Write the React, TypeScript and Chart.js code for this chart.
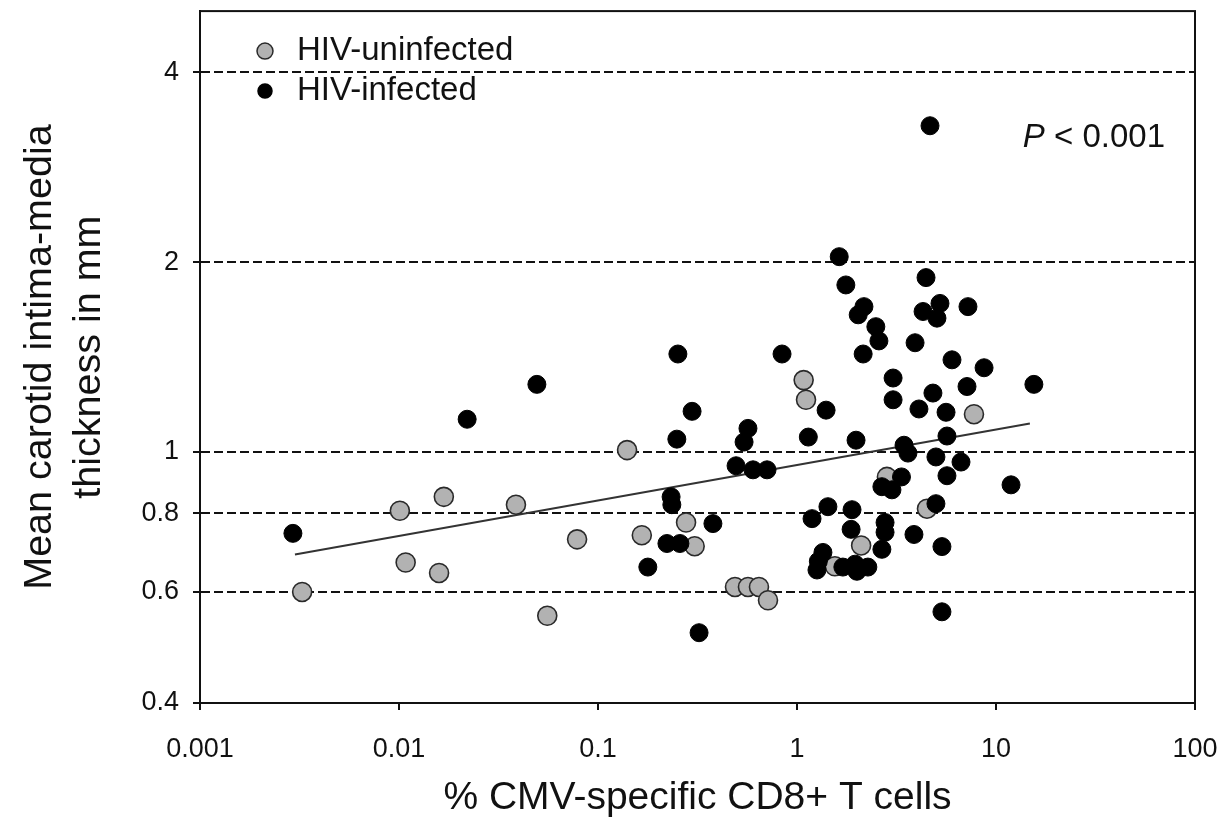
import React, { useEffect, useRef } from 'react';
import { Chart, registerables } from 'chart.js';

Chart.register(...registerables);

const X_TICKS = [0.001, 0.01, 0.1, 1, 10, 100];
const Y_TICKS = [0.4, 0.6, 0.8, 1, 2, 4];
const X_MIN = 0.001;
const X_MAX = 100;
const Y_MIN = 0.4;
const Y_MAX = 5.0;

const LABEL_UNINFECTED = 'HIV-uninfected';
const LABEL_INFECTED = 'HIV-infected';
const X_TITLE = '% CMV-specific CD8+ T cells';
const Y_TITLE = ['Mean carotid intima-media', 'thickness in mm'];
const P_ITALIC = 'P';
const P_REST = ' < 0.001';

const uninfectedX = [0.00326, 0.0101, 0.0108, 0.0159, 0.0168, 0.0387, 0.0556, 0.0785, 0.14, 0.166, 0.277, 0.306, 0.488, 0.567, 0.644, 0.715, 1.08, 1.11, 1.55, 2.1, 2.83, 4.5, 7.75];
const uninfectedY = [0.6, 0.807, 0.668, 0.643, 0.849, 0.825, 0.55, 0.727, 1.007, 0.738, 0.773, 0.709, 0.611, 0.611, 0.611, 0.582, 1.3, 1.21, 0.659, 0.711, 0.913, 0.813, 1.148];

const infectedX = [0.00293, 0.022, 0.0493, 0.178, 0.222, 0.233, 0.235, 0.249, 0.252, 0.258, 0.297, 0.322, 0.378, 0.494, 0.542, 0.567, 0.601, 0.707, 0.841, 1.14, 1.19, 1.26, 1.28, 1.35, 1.4, 1.43, 1.63, 1.7, 1.76, 1.87, 1.89, 1.96, 1.98, 2.0, 2.03, 2.15, 2.17, 2.27, 2.49, 2.58, 2.67, 2.67, 2.77, 2.77, 3.0, 3.04, 3.04, 3.35, 3.45, 3.61, 3.87, 3.92, 4.1, 4.3, 4.45, 4.66, 4.82, 4.99, 4.99, 5.05, 5.23, 5.35, 5.35, 5.61, 5.67, 5.67, 6.01, 6.67, 7.15, 7.23, 8.71, 11.9, 15.5];
const infectedY = [0.743, 1.127, 1.28, 0.657, 0.716, 0.849, 0.825, 1.048, 1.43, 0.716, 1.16, 0.517, 0.77, 0.951, 1.037, 1.09, 0.937, 0.937, 1.43, 1.056, 0.784, 0.65, 0.671, 0.693, 1.165, 0.819, 2.04, 0.657, 1.84, 0.754, 0.81, 0.664, 1.044, 0.647, 1.65, 1.43, 1.7, 0.657, 1.58, 1.5, 0.881, 0.701, 0.773, 0.746, 0.871, 1.31, 1.21, 0.913, 1.025, 0.996, 0.74, 1.49, 1.17, 1.67, 1.89, 3.29, 1.24, 0.982, 0.828, 1.63, 1.72, 0.708, 0.558, 1.156, 1.06, 0.917, 1.4, 0.964, 1.27, 1.7, 1.36, 0.887, 1.28];

const fitX = [0.003, 14.8];
const fitY = [0.688, 1.11];

const FONT = '"Liberation Sans", Arial, Helvetica, sans-serif';

const overlayPlugin = {
  id: 'overlay',
  afterDatasetsDraw(chart: any) {
    const { ctx, chartArea } = chart;
    ctx.save();
    ctx.setLineDash([]);
    // frame
    ctx.strokeStyle = '#111';
    ctx.lineWidth = 2;
    ctx.strokeRect(chartArea.left, chartArea.top, chartArea.right - chartArea.left, chartArea.bottom - chartArea.top);

    // legend
    const items = chart.data.datasets.filter((d: any) => d.type === 'scatter');
    let y = chartArea.top + 40;
    items.forEach((d: any) => {
      ctx.beginPath();
      ctx.arc(chartArea.left + 65, y, d.legendRadius, 0, Math.PI * 2);
      ctx.fillStyle = d.backgroundColor;
      ctx.fill();
      ctx.lineWidth = 1.5;
      ctx.strokeStyle = d.borderColor;
      ctx.stroke();
      ctx.fillStyle = '#111';
      ctx.font = `33px ${FONT}`;
      ctx.textBaseline = 'middle';
      ctx.textAlign = 'left';
      ctx.fillText(d.label, chartArea.left + 97, y);
      y += 40;
    });

    // P value
    ctx.textBaseline = 'middle';
    ctx.font = `33px ${FONT}`;
    const restW = ctx.measureText(P_REST).width;
    const rx = chartArea.right - 30;
    ctx.textAlign = 'right';
    ctx.fillStyle = '#111';
    ctx.fillText(P_REST, rx, chartArea.top + 127);
    ctx.font = `italic 33px ${FONT}`;
    ctx.fillText(P_ITALIC, rx - restW, chartArea.top + 127);
    ctx.restore();
  },
};

export default function App() {
  const ref = useRef<HTMLCanvasElement | null>(null);

  useEffect(() => {
    if (!ref.current) return;
    const chart = new Chart(ref.current, {
      type: 'scatter',
      data: {
        datasets: [
          {
            type: 'scatter',
            label: LABEL_UNINFECTED,
            data: uninfectedX.map((x, i) => ({ x, y: uninfectedY[i] })),
            backgroundColor: '#b2b2b2',
            borderColor: '#2a2a2a',
            borderWidth: 1.6,
            pointRadius: 9.5,
            order: 2,
            legendRadius: 8,
          } as any,
          {
            type: 'scatter',
            label: LABEL_INFECTED,
            data: infectedX.map((x, i) => ({ x, y: infectedY[i] })),
            backgroundColor: '#000000',
            borderColor: '#000000',
            borderWidth: 1,
            pointRadius: 9,
            order: 1,
            legendRadius: 7,
          } as any,
          {
            type: 'line',
            label: 'fit',
            data: fitX.map((x, i) => ({ x, y: fitY[i] })),
            borderColor: '#333',
            borderWidth: 2,
            pointRadius: 0,
            fill: false,
            order: 3,
          } as any,
        ],
      },
      options: {
        animation: false,
        responsive: false,
        devicePixelRatio: 1,
        layout: { padding: { top: 8, right: 25, left: 0, bottom: 0 } },
        plugins: { legend: { display: false }, tooltip: { enabled: false } },
        scales: {
          x: {
            type: 'logarithmic',
            min: X_MIN,
            max: X_MAX,
            afterBuildTicks: (s: any) => { s.ticks = X_TICKS.map((v) => ({ value: v })); },
            afterFit: (s: any) => { s.height = 115; s.paddingLeft = 0; s.paddingRight = 0; },
            ticks: {
              callback: (v: any) => String(v),
              color: '#111',
              font: { family: FONT, size: 27 },
              padding: 23,
              maxRotation: 0,
              autoSkip: false,
            },
            grid: { drawOnChartArea: false, drawTicks: true, tickLength: 7, color: '#111', lineWidth: 2 },
            border: { display: true, color: '#111', width: 2 },
            title: {
              display: true,
              text: X_TITLE,
              color: '#111',
              font: { family: FONT, size: 39, lineHeight: 1 },
              padding: { top: 0, bottom: 0 },
            },
          },
          y: {
            type: 'logarithmic',
            min: Y_MIN,
            max: Y_MAX,
            afterBuildTicks: (s: any) => { s.ticks = Y_TICKS.map((v) => ({ value: v })); },
            afterFit: (s: any) => { s.width = 200; s.paddingTop = 0; s.paddingBottom = 0; },
            ticks: {
              callback: (v: any) => String(v),
              color: '#111',
              font: { family: FONT, size: 27 },
              padding: 14,
              autoSkip: false,
            },
            grid: {
              drawOnChartArea: true,
              drawTicks: true,
              tickLength: 7,
              color: '#111',
              lineWidth: 2,
              tickBorderDash: [],
            },
            border: { display: true, color: '#111', width: 2, dash: [9, 4] },
            title: {
              display: true,
              text: Y_TITLE,
              color: '#111',
              font: { family: FONT, size: 39.5, lineHeight: 1.23 },
              padding: { top: 16, bottom: 0 },
            },
          },
        },
      },
      plugins: [overlayPlugin],
    } as any);
    return () => chart.destroy();
  }, []);

  return (
    <div style={{ position: 'fixed', left: 0, top: 0, width: 1220, height: 818, background: '#fff' }}>
      <canvas ref={ref} width={1220} height={818} />
    </div>
  );
}
